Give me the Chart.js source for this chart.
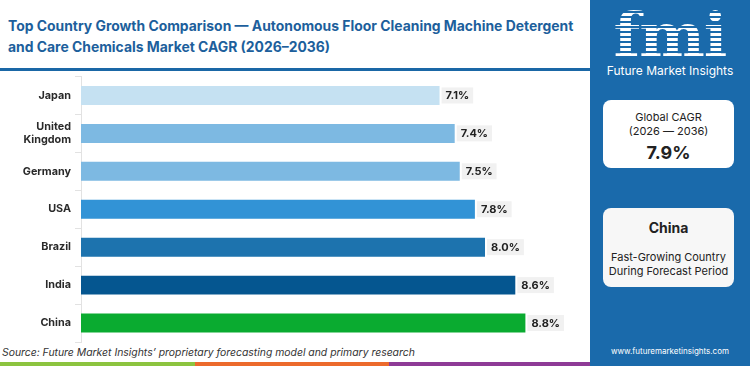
<!DOCTYPE html>
<html>
<head>
<meta charset="utf-8">
<script src="https://cdn.jsdelivr.net/npm/chart.js@4.4.1/dist/chart.umd.min.js"></script>
<style>
  html, body { margin: 0; padding: 0; background: #fff; }
  body { width: 750px; height: 366px; position: relative; overflow: hidden; font-family: Inter, "Open Sans", sans-serif; }
  #title { position: absolute; left: 8px; top: 16px; white-space: nowrap; font-weight: 700; font-size: 13.9px; line-height: 21px; color: #1d5f9c; }
  #rule { position: absolute; left: 0; top: 68px; width: 590px; height: 3px; background: #1a67a6; }
  #chartWrap { position: absolute; left: 0; top: 72px; width: 590px; height: 272px; }
  #source { position: absolute; left: 2px; top: 346px; font-size: 10.4px; font-style: italic; color: #333; }
  .strip { position: absolute; top: 362px; height: 4px; }
  #panel { position: absolute; left: 590px; top: 0; width: 160px; height: 366px; background: #1a6aab; color: #fff; text-align: center; }
  #logo { position: absolute; left: 0; top: 3px; width: 160px; font-family: "DejaVu Serif", serif; font-weight: 700; font-size: 62px; line-height: 66px; letter-spacing: -1px;
          background: repeating-linear-gradient(#fff 0 3px, transparent 3px 5px); -webkit-background-clip: text; background-clip: text; color: transparent; }
  #brand { position: absolute; left: 0; top: 63px; width: 160px; font-size: 12px; }
  .box { position: absolute; left: 13px; width: 131px; background: #fff; border-radius: 8px; color: #222; }
  #box1 { top: 100px; height: 68px; }
  #box2 { top: 208px; height: 79px; background: #f7f7f7; }
  #url { position: absolute; left: 0; top: 346px; width: 160px; font-size: 8px; }
</style>
</head>
<body>
<div id="title">Top Country Growth Comparison — Autonomous Floor Cleaning Machine Detergent<br>and Care Chemicals Market CAGR (2026–2036)</div>
<div id="rule"></div>
<div id="chartWrap"><canvas id="chart" width="590" height="272"></canvas></div>
<div id="source">Source: Future Market Insights’ proprietary forecasting model and primary research</div>
<div class="strip" style="left:0;width:195px;background:#8cc43f"></div>
<div class="strip" style="left:195px;width:194px;background:#ec6a2c"></div>
<div class="strip" style="left:389px;width:201px;background:#8e3a96"></div>
<div id="panel">
  <div id="logo">fmi</div>
  <div id="brand">Future Market Insights</div>
  <div class="box" id="box1">
    <div style="position:absolute;top:10px;width:100%;font-size:11px">Global CAGR</div>
    <div style="position:absolute;top:24px;width:100%;font-size:11px">(2026 — 2036)</div>
    <div style="position:absolute;top:42px;width:100%;font-size:18px;font-weight:700">7.9%</div>
  </div>
  <div class="box" id="box2">
    <div style="position:absolute;top:11px;width:100%;font-size:14px;font-weight:700">China</div>
    <div style="position:absolute;top:42px;width:100%;font-size:11px">Fast-Growing Country</div>
    <div style="position:absolute;top:56px;width:100%;font-size:11px">During Forecast Period</div>
  </div>
  <div id="url">www.futuremarketinsights.com</div>
</div>

<script>
var countries = ['Japan', 'United Kingdom', 'Germany', 'USA', 'Brazil', 'India', 'China'];
var cagr = [7.1, 7.4, 7.5, 7.8, 8.0, 8.6, 8.8];
var barColors = ['#c5e1f2', '#7db9e2', '#7db9e2', '#3293d6', '#1d73ae', '#055690', '#0aab30'];

// value labels with a light grey box to the right of each bar
var valueLabels = {
	id: 'valueLabels',
	afterDatasetsDraw: function(chart) {
		var ctx = chart.ctx;
		var meta = chart.getDatasetMeta(0);
		ctx.save();
		ctx.font = '700 11px Inter, sans-serif';
		ctx.textBaseline = 'middle';
		meta.data.forEach(function(bar, i) {
			var txt = cagr[i].toFixed(1) + '%';
			var w = ctx.measureText(txt).width;
			ctx.fillStyle = '#f1f1f1';
			ctx.fillRect(bar.x + 2, bar.y - 8, w + 8, 16);
			ctx.fillStyle = '#222';
			ctx.fillText(txt, bar.x + 6, bar.y + 0.5);
		});
		ctx.restore();
	}
};

var ctx = document.getElementById('chart').getContext('2d');
new Chart(ctx, {
	type: 'bar',
	data: {
		labels: countries,
		datasets: [{
			data: cagr,
			backgroundColor: barColors,
			barPercentage: 1,
			categoryPercentage: 0.5
		}]
	},
	options: {
		indexAxis: 'y',
		responsive: false,
		animation: false,
		layout: { padding: { top: 4.5, right: 4, bottom: 2, left: 0 } },
		plugins: {
			legend: { display: false },
			tooltip: { enabled: false }
		},
		scales: {
			x: { display: false, min: 0, max: 10 },
			y: {
				grid: { drawOnChartArea: false, tickLength: 6, color: '#e2e2e2', offset: true },
				border: { color: '#e2e2e2' },
				ticks: {
					color: '#2a2a2a',
					padding: 4,
					font: { family: 'Inter, sans-serif', size: 10.8, weight: '700', lineHeight: 1.25 },
					callback: function(value) {
						var l = this.getLabelForValue(value);
						return l === 'United Kingdom' ? ['United', 'Kingdom'] : l;
					}
				},
				afterFit: function(scale) {
					scale.width = 81;
					scale.paddingTop = 0;
					scale.paddingBottom = 0;
				}
			}
		}
	},
	plugins: [valueLabels]
});
</script>
</body>
</html>
